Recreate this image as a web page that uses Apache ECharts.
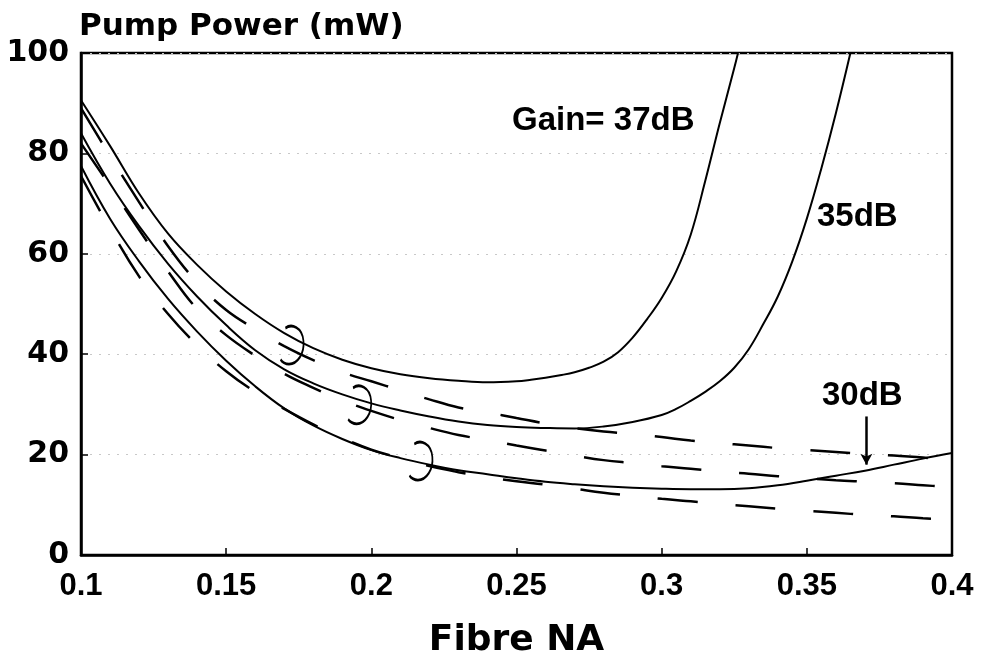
<!DOCTYPE html>
<html>
<head>
<meta charset="utf-8">
<script src="https://cdn.jsdelivr.net/npm/echarts@6/dist/echarts.min.js"></script>
<style>
html,body{margin:0;padding:0;background:#fff;}
#chart{width:984px;height:665px;}
</style>
</head>
<body>
<div id="chart"></div>
<script>
// ---- data ----
const xTickLabels = ['0.1','0.15','0.2','0.25','0.3','0.35','0.4'];
const yTickLabels = ['0','20','40','60','80','100'];

// Solid curves (computed)
const gain37X = [0.1,0.11,0.12,0.13,0.14,0.15,0.16,0.17,0.18,0.19,0.2,0.21,0.22,0.23,0.24,0.25,0.255,0.26,0.265,0.27,0.275,0.28,0.285,0.29,0.295,0.3,0.305,0.31,0.315,0.32,0.325,0.3263];
const gain37Y = [90.6,81.5,72,64,57.8,52.5,48,44.2,41.2,38.9,37.2,36,35.2,34.7,34.4,34.6,34.9,35.3,35.8,36.4,37.3,38.5,40.4,43.3,47,51.2,56.5,63.8,74.5,86,97,100];

const gain35X = [0.1,0.11,0.12,0.13,0.14,0.15,0.16,0.17,0.18,0.19,0.2,0.21,0.22,0.23,0.24,0.25,0.26,0.27,0.28,0.29,0.3,0.305,0.31,0.315,0.32,0.325,0.33,0.335,0.34,0.345,0.35,0.355,0.36,0.365];
const gain35Y = [84,74,65.5,58,51.5,45.8,40.8,37,34.2,32,30.2,28.8,27.6,26.6,25.9,25.5,25.3,25.2,25.6,26.5,27.9,29.1,30.7,32.5,34.6,37.3,41,46,51.5,58.5,67,77,88,100];

const gain30X = [0.1,0.11,0.12,0.13,0.14,0.15,0.16,0.17,0.18,0.19,0.2,0.21,0.22,0.23,0.24,0.25,0.26,0.27,0.28,0.29,0.3,0.31,0.32,0.33,0.34,0.35,0.36,0.37,0.38,0.39,0.4];
const gain30Y = [77.5,67,58.5,51,44.5,38.7,33.6,29.2,25.8,23.1,20.9,19.3,18,16.9,16.1,15.3,14.6,14.1,13.7,13.4,13.2,13.1,13.1,13.3,13.9,14.8,15.8,16.8,18,19.2,20.3];

// Dashed curves (approximation)
const dashX = [0.1,0.11,0.12,0.13,0.14,0.15,0.16,0.17,0.18,0.19,0.2,0.21,0.22,0.23,0.24,0.25,0.26,0.27,0.28,0.29,0.3,0.31,0.32,0.33,0.34,0.35,0.36,0.37,0.38,0.39,0.4];
const dash37Y = [89,79.5,70.3,61.5,54.3,48.8,45,41.6,38.8,36.4,34.6,32.8,31,29.4,28.4,27.3,26.2,25.3,24.6,24.1,23.5,22.8,22.3,21.8,21.3,20.9,20.5,20.1,19.8,19.4,19.1];
const dash35Y = [82,73.5,64.8,56.5,49,43.8,39.7,36.1,33.3,30.8,28.7,26.9,25.3,23.9,22.9,21.8,20.8,19.8,18.9,18.3,17.7,17.2,16.6,16.2,15.7,15.3,14.9,14.6,14.3,13.9,13.5];
const dash30Y = [75.5,65,55.5,48,41.8,36.6,32.5,29.1,26,23.3,21,19.3,17.7,16.5,15.5,14.7,14,13.2,12.4,11.8,11.2,10.7,10.2,9.7,9.2,8.8,8.4,8,7.7,7.3,7];

// Ring markers grouping each solid/dashed pair
const ringX = [0.1727, 0.196, 0.2171];
const ringY = [41.8, 29.9, 18.7];

// Arrow pointing at the 30dB curve
const arrowX = 0.3705;
const arrowY = [27.6, 18.0];

const zip = (xs, ys) => xs.map((x, i) => [x, ys[i]]);

const solidStyle = {color:'#000', width:2};
const dashStyle = {color:'#000', width:2.5, type:[40,38]};

function lineSeries(name, xs, ys, style, extra) {
  return Object.assign({
    name: name,
    type: 'line',
    data: zip(xs, ys),
    showSymbol: false,
    symbol: 'none',
    smooth: 0.4,
    lineStyle: style,
    silent: true,
    animation: false
  }, extra || {});
}

const ringPath = 'path://M5,3 C10,-1 19,2 20,14 C21,25 15,34 8,34 C5,34 2,32 1,30';

const chart = echarts.init(document.getElementById('chart'), null, {renderer:'canvas'});
chart.setOption({
  animation: false,
  backgroundColor: '#fff',
  grid: {left:81, right:32, top:53, bottom:110, show:true, borderColor:'#000', borderWidth:2.5, backgroundColor:'transparent'},
  xAxis: {
    type:'value', min:0.1, max:0.4, interval:0.05,
    name:'Fibre NA', nameLocation:'middle', nameGap:86,
    nameTextStyle:{fontFamily:'DejaVu Sans', fontWeight:'bold', fontSize:36, color:'#000', verticalAlign:'middle'},
    axisLine:{show:true, lineStyle:{color:'#000', width:2.5}},
    axisTick:{show:true, inside:true, length:7, lineStyle:{color:'#000', width:1.5}},
    axisLabel:{margin:16, fontFamily:'Liberation Sans', fontWeight:'bold', fontSize:31, color:'#000',
      formatter: function(v){ const i = Math.round((v-0.1)/0.05); return xTickLabels[i] !== undefined ? xTickLabels[i] : ''; }},
    splitLine:{show:false}
  },
  yAxis: {
    type:'value', min:0, max:100, interval:20,
    name:'Pump Power (mW)', nameLocation:'end', nameGap:26,
    nameTextStyle:{fontFamily:'DejaVu Sans', fontWeight:'bold', fontSize:31, color:'#000', align:'left', verticalAlign:'middle', padding:[0,0,0,-2]},
    axisLine:{show:true, lineStyle:{color:'#000', width:2.5}},
    axisTick:{show:true, inside:true, length:7, lineStyle:{color:'#000', width:1.5}},
    axisLabel:{margin:12, fontFamily:'DejaVu Sans', fontWeight:'bold', fontSize:30, color:'#000',
      formatter: function(v){ const i = Math.round(v/20); return yTickLabels[i] !== undefined ? yTickLabels[i] : ''; }},
    splitLine:{show:true, lineStyle:{color:'#c8c8c8', width:1, type:[2,7]}}
  },
  series: [
    lineSeries('37dB', gain37X, gain37Y, solidStyle),
    lineSeries('35dB', gain35X, gain35Y, solidStyle),
    lineSeries('30dB', gain30X, gain30Y, solidStyle, {
      markLine: {
        silent:true, animation:false,
        symbol:['none','arrow'], symbolSize:[9,11],
        label:{show:false},
        lineStyle:{color:'#000', width:2.5, type:'solid'},
        data:[[{coord:[arrowX, arrowY[0]]},{coord:[arrowX, arrowY[1]]}]]
      }
    }),
    lineSeries('37dB approx', dashX, dash37Y, dashStyle),
    lineSeries('35dB approx', dashX, dash35Y, dashStyle),
    lineSeries('30dB approx', dashX, dash30Y, dashStyle),
    {
      name:'rings', type:'scatter', data: zip(ringX, ringY),
      symbol: ringPath, symbolSize:[23,38], symbolKeepAspect:false,
      itemStyle:{color:'rgba(0,0,0,0)', borderColor:'#000', borderWidth:2.2, opacity:1},
      silent:true, animation:false
    }
  ],
  graphic: [
    {type:'text', left:512, top:104, style:{text:'Gain= 37dB', fontFamily:'Liberation Sans', fontWeight:'bold', fontSize:33, fill:'#000'}},
    {type:'text', left:817, top:200, style:{text:'35dB', fontFamily:'Liberation Sans', fontWeight:'bold', fontSize:33, fill:'#000'}},
    {type:'text', left:822, top:379, style:{text:'30dB', fontFamily:'Liberation Sans', fontWeight:'bold', fontSize:33, fill:'#000'}}
  ]
});
</script>
</body>
</html>
